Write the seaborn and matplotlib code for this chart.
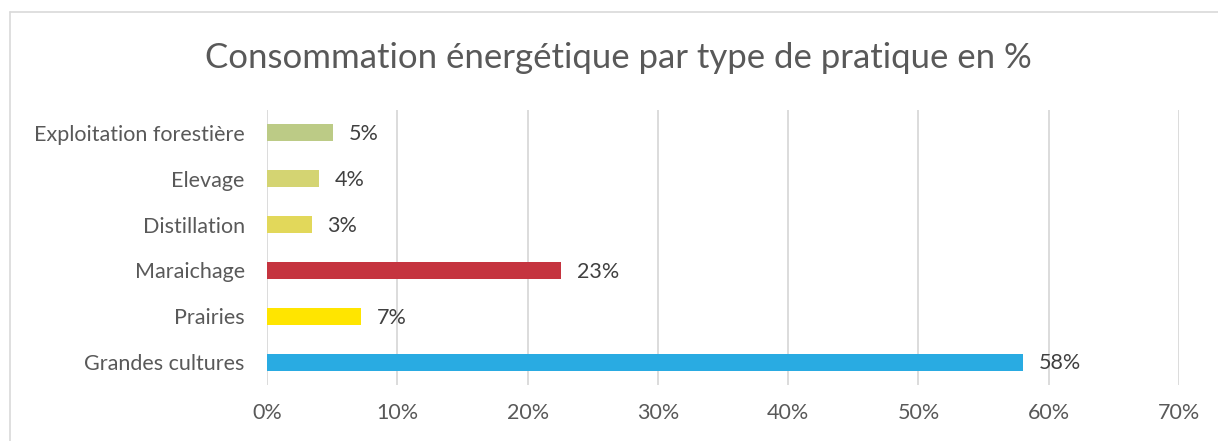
import numpy as np
import pandas as pd
import matplotlib
matplotlib.use("Agg")
import matplotlib.pyplot as plt
import seaborn as sns

# data
categories = ["Exploitation forestière", "Elevage", "Distillation",
              "Maraichage", "Prairies", "Grandes cultures"]
values = [5.07, 4.0, 3.45, 22.6, 7.2, 58.0]
labels = ["5%", "4%", "3%", "23%", "7%", "58%"]
colors = ["#bccb86", "#d4d472", "#e2d85a", "#c5343f", "#ffe500", "#29abe2"]
xticks = [0, 10, 20, 30, 40, 50, 60, 70]

sns.set_theme(style="white")
plt.rcParams["font.family"] = ["Lato", "DejaVu Sans"]

df = pd.DataFrame({"cat": categories, "val": values})

fig = plt.figure(figsize=(12.18, 4.41), dpi=100)
ax = fig.add_axes([0.2192, 0.127, 0.7488, 0.6236])

sns.barplot(data=df, x="val", y="cat", hue="cat", palette=colors,
            order=categories, width=0.37, legend=False, ax=ax,
            saturation=1, edgecolor="none")

ax.set_xlim(0, 70)
ax.set_xticks(xticks)
ax.set_xticklabels([f"{t}%" for t in xticks])
ax.xaxis.grid(True, color="#d9d9d9", linewidth=1.3)
ax.set_axisbelow(True)
for s in ax.spines.values():
    s.set_visible(False)
ax.set_xlabel("")
ax.set_ylabel("")
ax.tick_params(axis="both", length=0, labelcolor="#595959", labelsize=15.5)
ax.tick_params(axis="x", pad=13)
ax.tick_params(axis="y", pad=16)

for i, (v, lab) in enumerate(zip(values, labels)):
    ax.text(v + 1.2, i + 0.03, lab, va="center", ha="left", fontsize=15.5, color="#404040")

fig.text(0.508, 0.868, "Consommation énergétique par type de pratique en %",
         ha="center", va="center", fontsize=25, color="#595959")

# chart frame (left and top visible)
fig.add_artist(plt.Line2D([0.0082, 0.0082], [0.0, 0.973], transform=fig.transFigure,
                          color="#d9d9d9", linewidth=1.2))
fig.add_artist(plt.Line2D([0.0082, 1.0], [0.973, 0.973], transform=fig.transFigure,
                          color="#d9d9d9", linewidth=1.2))

fig.savefig("out.png", dpi=100, facecolor="white")
